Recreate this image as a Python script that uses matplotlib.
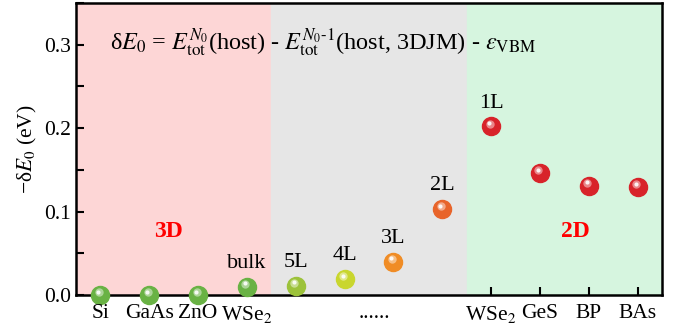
import matplotlib.pyplot as plt
from matplotlib.ticker import MultipleLocator

plt.rcParams['font.family'] = ['Liberation Serif', 'DejaVu Serif']
plt.rcParams['mathtext.fontset'] = 'stix'

# dados
x_pos = list(range(12))
values = [0.0, 0.0, 0.0, 0.010, 0.011, 0.019, 0.040, 0.103, 0.202, 0.146, 0.131, 0.129]
colors = ['#69b244', '#69b244', '#69b244', '#69b244', '#9cc23a', '#c9d62e',
          '#f08c25', '#e8642a', '#d8232a', '#d8232a', '#d8232a', '#d8232a']
point_labels = ['', '', '', 'bulk', '5L', '4L', '3L', '2L', '1L', '', '', '']
bottom_labels = ['Si', 'GaAs', 'ZnO', 'WSe$_2$', '......', 'WSe$_2$', 'GeS', 'BP', 'BAs']
bottom_pos = [0, 1, 2, 3, 5.6, 8, 9, 10, 11]
tick_pos = [0, 1, 2, 3, 8, 9, 10, 11]

fig = plt.figure(figsize=(6.79, 3.33), dpi=100)
ax = fig.add_axes([76 / 679, 38 / 333, 586 / 679, 292 / 333])

# regioes de fundo
ax.axvspan(-0.5, 3.5, color='#fdd6d6', zorder=0)
ax.axvspan(3.5, 7.5, color='#e6e6e6', zorder=0)
ax.axvspan(7.5, 11.5, color='#d6f5df', zorder=0)

# esferas: cor base + brilho
for x, v, c in zip(x_pos, values, colors):
    ax.plot(x, v, 'o', ms=13, color=c, mec=c, zorder=3, clip_on=False)
    ax.plot(x - 0.03, v + 0.0035, 'o', ms=6, color='white', alpha=0.45, mec='none', zorder=4, clip_on=False)
    ax.plot(x - 0.04, v + 0.004, 'o', ms=3, color='white', alpha=0.9, mec='none', zorder=5, clip_on=False)

for x, v, t in zip(x_pos, values, point_labels):
    if t:
        ax.annotate(t, (x, v), xytext=(0, 10), textcoords='offset points',
                    ha='center', va='bottom', fontsize=16)

ax.text(1.4, 0.076, '3D', color='red', fontsize=17, fontweight='bold', ha='center', va='center')
ax.text(9.73, 0.076, '2D', color='red', fontsize=17, fontweight='bold', ha='center', va='center')

ax.text(0.2, 0.303,
        r'δ$E_0$ = $E_{\rm tot}^{N_0}$(host) - $E_{\rm tot}^{N_0\text{-}1}$(host, 3DJM) - $\varepsilon_{\rm VBM}$',
        fontsize=17.5, va='center', ha='left')

for x, t in zip(bottom_pos, bottom_labels):
    ax.text(x, -0.011, t, ha='center', va='top', fontsize=15.5)

ax.set_xlim(-0.5, 11.5)
ax.set_ylim(0, 0.35)
ax.set_xticks(tick_pos)
ax.set_xticklabels([])
ax.yaxis.set_major_locator(MultipleLocator(0.1))
ax.yaxis.set_minor_locator(MultipleLocator(0.05))
ax.yaxis.set_major_formatter(plt.FormatStrFormatter('%.1f'))
ax.tick_params(axis='both', direction='in', labelsize=15.5, width=1.5, length=6)
ax.tick_params(axis='y', which='minor', direction='in', width=1.5, length=6)
ax.set_ylabel(r'−δ$E_0$ (eV)', fontsize=15.5, labelpad=4)
for s in ax.spines.values():
    s.set_linewidth(1.8)

fig.savefig('out.png', dpi=100)
